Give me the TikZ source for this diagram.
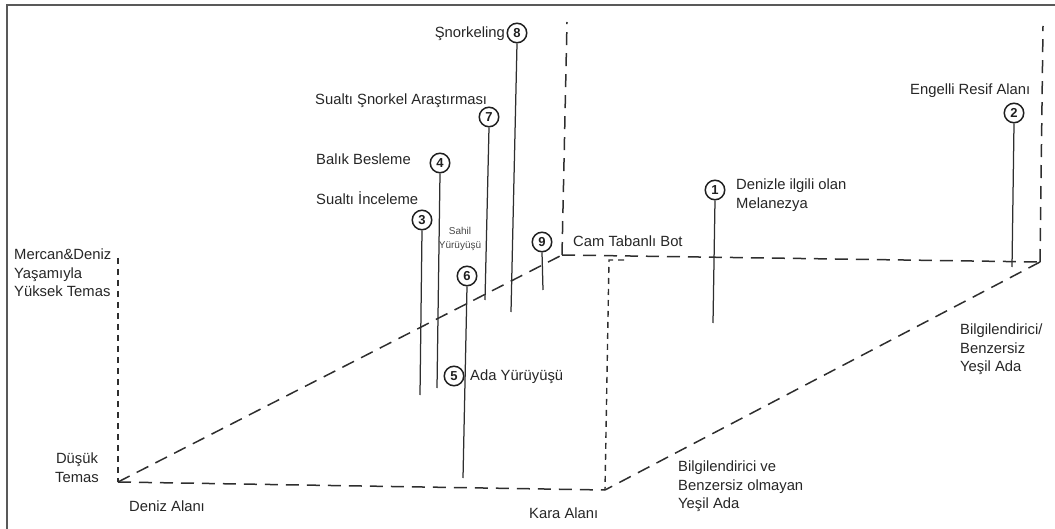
\documentclass[tikz,border=0pt]{standalone}
\usepackage{fontspec}
\setmainfont{Liberation Sans}
\begin{document}
\begin{tikzpicture}[x=1pt,y=-1pt,
  dline/.style={line width=1.5pt, draw=black!82, dash pattern=on 13pt off 8pt},
  sdline/.style={line width=1.4pt, draw=black!82, dash pattern=on 6pt off 5pt},
  stick/.style={line width=1.25pt, draw=black!82},
  frame/.style={line width=2.5pt, draw=black!65},
  num/.style={circle, draw=black!88, line width=1.5pt, minimum size=19.5pt, inner sep=0pt, fill=white,
    font=\fontsize{13}{13}\selectfont\bfseries, text=black!88},
  lbl/.style={inner sep=0pt, text=black!85, font=\fontsize{14.8}{18.5}\selectfont, align=left},
  small/.style={inner sep=0pt, text=black!72, font=\fontsize{10}{14}\selectfont, align=center}]
\useasboundingbox (0,0) rectangle (1055,529);
% frame
\coordinate (f1) at (7,529);
\coordinate (f2) at (7,5);
\coordinate (f3) at (1055,5);
\draw[frame] (f1) -- (f2) -- (f3);
% axes / box
\coordinate (T) at (118,258);
\coordinate (O) at (118,482);
\coordinate (B) at (605,490);
\coordinate (C) at (562,255);
\coordinate (Ct) at (567,22);
\coordinate (R) at (1040,262);
\coordinate (Rt) at (1043,26);
\coordinate (L) at (609,260);
\coordinate (Ls) at (624,260);
\draw[sdline] (T) -- (O);
\draw[dline] (O) -- (B);
\draw[dline] (O) -- (C);
\draw[dline] (C) -- (Ct);
\draw[dline] (C) -- (R);
\draw[dline] (R) -- (Rt);
\draw[dline] (R) -- (B);
\draw[sdline] (Ls) -- (L) -- (B);
% sticks ends
\coordinate (e1) at (713,323);
\coordinate (e2) at (1012,267);
\coordinate (e3) at (420,395);
\coordinate (e4) at (437,388);
\coordinate (e6) at (463,478);
\coordinate (e7) at (485,300);
\coordinate (e8) at (511,312);
\coordinate (e9) at (543,290);
% numbered circles
\node[num] (c1) at (715,190) {1};
\node[num] (c2) at (1014,113) {2};
\node[num] (c3) at (422,220) {3};
\node[num] (c4) at (440,163) {4};
\node[num] (c5) at (454,376) {5};
\node[num] (c6) at (467,276) {6};
\node[num] (c7) at (489,117) {7};
\node[num] (c8) at (517,33) {8};
\node[num] (c9) at (542,242) {9};
\draw[stick] (c1.south) -- (e1);
\draw[stick] (c2.south) -- (e2);
\draw[stick] (c3.south) -- (e3);
\draw[stick] (c4.south) -- (e4);
\draw[stick] (c6.south) -- (e6);
\draw[stick] (c7.south) -- (e7);
\draw[stick] (c8.south) -- (e8);
\draw[stick] (c9.south) -- (e9);
% labels
\node[lbl, anchor=base east] (l8) at (505,38) {Şnorkeling};
\node[lbl, anchor=base west] (l7) at (315,105) {Sualtı Şnorkel Araştırması};
\node[lbl, anchor=base west] (l4) at (316,165) {Balık Besleme};
\node[lbl, anchor=base west] (l3) at (316,205) {Sualtı İnceleme};
\node[small, anchor=north] (ls) at (460,227) {Sahil\\Yürüyüşü};
\node[lbl, anchor=base west] (l9) at (573,247) {Cam Tabanlı Bot};
\node[lbl, anchor=north west] (l1) at (736,179) {Denizle ilgili olan\\Melanezya};
\node[lbl, anchor=base west] (l2) at (910,95) {Engelli Resif Alanı};
\node[lbl, anchor=base west] (l5) at (470,381) {Ada Yürüyüşü};
\node[lbl, anchor=north west] (ly) at (14,249) {Mercan\&Deniz\\Yaşamıyla\\Yüksek Temas};
\node[lbl, anchor=north, align=center] (ld) at (77,453) {Düşük\\Temas};
\node[lbl, anchor=base west] (lda) at (129,511) {Deniz Alanı};
\node[lbl, anchor=base west] (lka) at (529,518) {Kara Alanı};
\node[lbl, anchor=north west] (lb1) at (678,461) {Bilgilendirici ve\\Benzersiz olmayan\\Yeşil Ada};
\node[lbl, anchor=north west] (lb2) at (960,324) {Bilgilendirici/\\Benzersiz\\Yeşil Ada};
\end{tikzpicture}
\end{document}
